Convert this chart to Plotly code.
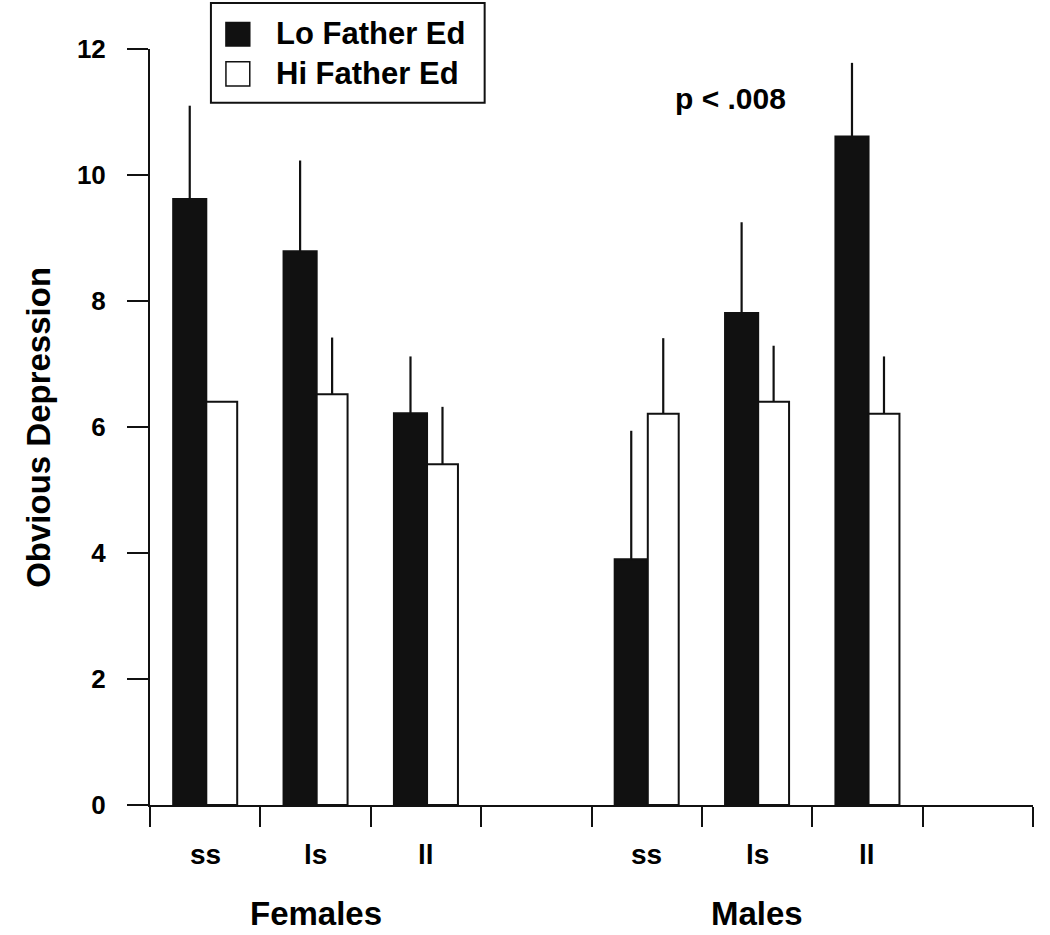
import plotly.graph_objects as go

# ---- data ----
slots = ["F-ss", "F-ls", "F-ll", "F-gap", "M-ss", "M-ls", "M-ll", "M-gap"]
genotypes = ["ss", "ls", "ll", "ss", "ls", "ll"]
bar_slots = ["F-ss", "F-ls", "F-ll", "M-ss", "M-ls", "M-ll"]
groups = ["Females", "Males"]
group_slots = ["F-ls", "M-ls"]

lo_mean = [9.62, 8.79, 6.22, 3.90, 7.81, 10.61]
lo_se = [1.48, 1.44, 0.90, 2.04, 1.44, 1.17]
hi_mean = [6.40, 6.52, 5.41, 6.21, 6.40, 6.21]
hi_se = [None, 0.90, 0.91, 1.20, 0.89, 0.91]

series_names = ["Lo Father Ed", "Hi Father Ed"]
y_ticks = [0, 2, 4, 6, 8, 10, 12]
p_text = "p < .008"

x_pos = [slots.index(s) for s in bar_slots]
boundaries = [i - 0.5 for i in range(len(slots) + 1)]

BOLD = "Liberation Sans, Arial, Helvetica, sans-serif"
INK = "#111111"

fig = go.Figure()
fig.add_trace(go.Bar(
    x=x_pos, y=lo_mean, name=series_names[0],
    offset=-0.29, width=0.30,
    marker=dict(color=INK, line=dict(color=INK, width=2)),
    error_y=dict(type="data", array=lo_se, arrayminus=[0] * len(lo_se),
                 symmetric=False, width=0, thickness=2.2, color=INK),
    showlegend=False,
))
fig.add_trace(go.Bar(
    x=x_pos, y=hi_mean, name=series_names[1],
    offset=0.01, width=0.28,
    marker=dict(color="white", line=dict(color=INK, width=2)),
    error_y=dict(type="data", array=[v if v is not None else 0 for v in hi_se],
                 arrayminus=[0] * len(hi_se),
                 symmetric=False, width=0, thickness=2.2, color=INK),
    showlegend=False,
))

annotations = []
# category labels
for xp, g in zip(x_pos, genotypes):
    annotations.append(dict(x=xp, xref="x", y=-0.066, yref="paper", text=g,
                            showarrow=False, xanchor="center", yanchor="middle",
                            font=dict(family=BOLD, size=28, color="black", weight="bold")))
for gs, g in zip(group_slots, groups):
    annotations.append(dict(x=slots.index(gs), xref="x", y=-0.143, yref="paper",
                            text=g, showarrow=False, xanchor="center", yanchor="middle",
                            font=dict(family=BOLD, size=33, color="black", weight="bold")))
# y title
annotations.append(dict(x=-0.127, xref="paper", y=0.5, yref="paper",
                        text="Obvious Depression", textangle=-90, showarrow=False,
                        xanchor="center", yanchor="middle",
                        font=dict(family=BOLD, size=33, color="black", weight="bold")))
# p-value
annotations.append(dict(x=4.76, xref="x", y=11.22, yref="y", text=p_text,
                        showarrow=False, xanchor="center", yanchor="middle",
                        font=dict(family=BOLD, size=30, color="black", weight="bold")))

# custom legend
shapes = [
    dict(type="rect", xref="paper", yref="paper", x0=0.069, x1=0.379, y0=0.929, y1=1.061,
         line=dict(color=INK, width=2), fillcolor="white", layer="above"),
    dict(type="rect", xref="paper", yref="paper", x0=0.086, x1=0.113, y0=1.004, y1=1.035,
         line=dict(color=INK, width=1.5), fillcolor=INK, layer="above"),
    dict(type="rect", xref="paper", yref="paper", x0=0.086, x1=0.113, y0=0.951, y1=0.983,
         line=dict(color=INK, width=1.5), fillcolor="white", layer="above"),
]
for name, yy in zip(series_names, [1.021, 0.968]):
    annotations.append(dict(x=0.140, xref="paper", y=yy, yref="paper", text=name,
                            showarrow=False, xanchor="left", yanchor="middle",
                            font=dict(family=BOLD, size=31, color="black", weight="bold")))

fig.update_layout(
    width=1050, height=935,
    margin=dict(l=150, r=17, t=49, b=130),
    plot_bgcolor="white", paper_bgcolor="white",
    shapes=shapes, annotations=annotations,
    showlegend=False,
    xaxis=dict(range=[boundaries[0], boundaries[-1]], tickmode="array",
               tickvals=boundaries, ticktext=[""] * len(boundaries),
               ticks="outside", ticklen=20, tickwidth=2, tickcolor=INK,
               showline=True, linecolor=INK, linewidth=2,
               showgrid=False, zeroline=False),
    yaxis=dict(range=[0, 12], tickmode="array", tickvals=y_ticks,
               ticktext=[str(t) for t in y_ticks],
               ticks="outside", ticklen=21, tickwidth=2, tickcolor=INK,
               ticklabelstandoff=16,
               showline=True, linecolor=INK, linewidth=2,
               showgrid=False, zeroline=False,
               tickfont=dict(family=BOLD, size=26, color="black", weight="bold")),
)

fig.write_html("out.html", config={"displayModeBar": False},
               post_script="document.body.style.margin='0';")
